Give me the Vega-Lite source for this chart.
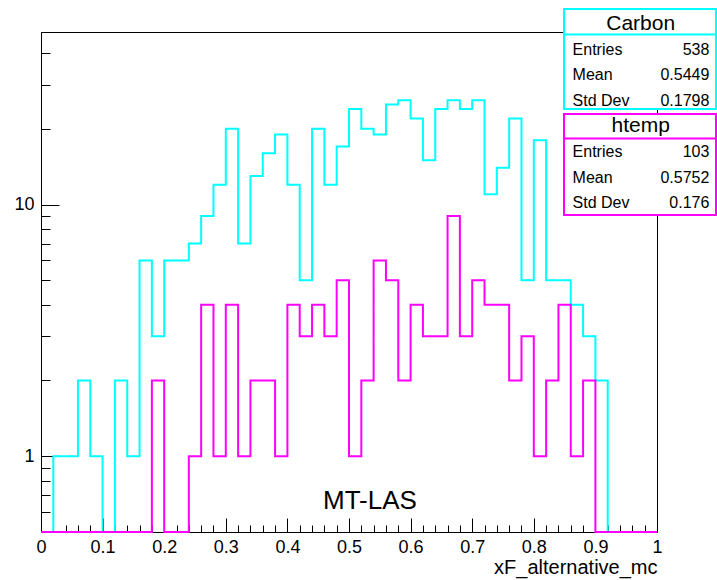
{
  "$schema": "https://vega.github.io/schema/vega-lite/v6.json",
  "width": 616,
  "height": 500,
  "autosize": {"type": "none"},
  "padding": {"left": 41, "top": 32, "right": 60, "bottom": 48},
  "background": "white",
  "config": {
    "view": {"stroke": "#000", "strokeWidth": 1},
    "font": "Liberation Sans",
    "axis": {
      "domainColor": "#000", "tickColor": "#000", "labelColor": "#000", "titleColor": "#000",
      "labelFont": "Liberation Sans", "titleFont": "Liberation Sans", "grid": false,
      "tickWidth": 1, "domainWidth": 1
    }
  },
  "datasets": {
    "hist": [
      {"x": 0.00, "Carbon": 0, "htemp": 0},
      {"x": 0.02, "Carbon": 1, "htemp": 0},
      {"x": 0.04, "Carbon": 1, "htemp": 0},
      {"x": 0.06, "Carbon": 2, "htemp": 0},
      {"x": 0.08, "Carbon": 1, "htemp": 0},
      {"x": 0.10, "Carbon": 0, "htemp": 0},
      {"x": 0.12, "Carbon": 2, "htemp": 0},
      {"x": 0.14, "Carbon": 1, "htemp": 0},
      {"x": 0.16, "Carbon": 6, "htemp": 0},
      {"x": 0.18, "Carbon": 3, "htemp": 2},
      {"x": 0.20, "Carbon": 6, "htemp": 0},
      {"x": 0.22, "Carbon": 6, "htemp": 0},
      {"x": 0.24, "Carbon": 7, "htemp": 1},
      {"x": 0.26, "Carbon": 9, "htemp": 4},
      {"x": 0.28, "Carbon": 12, "htemp": 1},
      {"x": 0.30, "Carbon": 20, "htemp": 4},
      {"x": 0.32, "Carbon": 7, "htemp": 1},
      {"x": 0.34, "Carbon": 13, "htemp": 2},
      {"x": 0.36, "Carbon": 16, "htemp": 2},
      {"x": 0.38, "Carbon": 19, "htemp": 1},
      {"x": 0.40, "Carbon": 12, "htemp": 4},
      {"x": 0.42, "Carbon": 5, "htemp": 3},
      {"x": 0.44, "Carbon": 20, "htemp": 4},
      {"x": 0.46, "Carbon": 12, "htemp": 3},
      {"x": 0.48, "Carbon": 17, "htemp": 5},
      {"x": 0.50, "Carbon": 24, "htemp": 1},
      {"x": 0.52, "Carbon": 20, "htemp": 2},
      {"x": 0.54, "Carbon": 19, "htemp": 6},
      {"x": 0.56, "Carbon": 25, "htemp": 5},
      {"x": 0.58, "Carbon": 26, "htemp": 2},
      {"x": 0.60, "Carbon": 22, "htemp": 4},
      {"x": 0.62, "Carbon": 15, "htemp": 3},
      {"x": 0.64, "Carbon": 24, "htemp": 3},
      {"x": 0.66, "Carbon": 26, "htemp": 9},
      {"x": 0.68, "Carbon": 24, "htemp": 3},
      {"x": 0.70, "Carbon": 26, "htemp": 5},
      {"x": 0.72, "Carbon": 11, "htemp": 4},
      {"x": 0.74, "Carbon": 14, "htemp": 4},
      {"x": 0.76, "Carbon": 22, "htemp": 2},
      {"x": 0.78, "Carbon": 5, "htemp": 3},
      {"x": 0.80, "Carbon": 18, "htemp": 1},
      {"x": 0.82, "Carbon": 5, "htemp": 2},
      {"x": 0.84, "Carbon": 5, "htemp": 4},
      {"x": 0.86, "Carbon": 4, "htemp": 1},
      {"x": 0.88, "Carbon": 3, "htemp": 2},
      {"x": 0.90, "Carbon": 2, "htemp": 0},
      {"x": 0.92, "Carbon": 0, "htemp": 0},
      {"x": 0.94, "Carbon": 0, "htemp": 0},
      {"x": 0.96, "Carbon": 0, "htemp": 0},
      {"x": 0.98, "Carbon": 0, "htemp": 0},
      {"x": 1.00, "Carbon": 0, "htemp": 0}
    ],
    "stats": [
      {"box": "Carbon", "kind": "title", "slot": 0, "label": "Carbon", "value": ""},
      {"box": "Carbon", "kind": "stat", "slot": 1, "label": "Entries", "value": "538"},
      {"box": "Carbon", "kind": "stat", "slot": 2, "label": "Mean", "value": "0.5449"},
      {"box": "Carbon", "kind": "stat", "slot": 3, "label": "Std Dev", "value": "0.1798"},
      {"box": "htemp", "kind": "title", "slot": 4, "label": "htemp", "value": ""},
      {"box": "htemp", "kind": "stat", "slot": 5, "label": "Entries", "value": "103"},
      {"box": "htemp", "kind": "stat", "slot": 6, "label": "Mean", "value": "0.5752"},
      {"box": "htemp", "kind": "stat", "slot": 7, "label": "Std Dev", "value": "0.176"}
    ]
  },
  "layer": [
    {
      "data": {"name": "hist"},
      "layer": [
        {
          "mark": {"type": "line", "interpolate": "step-after", "color": "#00FFFF", "strokeWidth": 2},
          "encoding": {
            "x": {
              "field": "x", "type": "quantitative",
              "scale": {"domain": [0, 1], "nice": false, "zero": false},
              "axis": {
                "orient": "bottom",
                "values": [0, 0.1, 0.2, 0.3, 0.4, 0.5, 0.6, 0.7, 0.8, 0.9, 1],
                "format": "~g", "tickSize": -14, "labelPadding": 20,
                "labelFontSize": 18, "labelFlush": false, "labelOverlap": false,
                "title": "xF_alternative_mc", "titleAnchor": "end", "titleFontSize": 20,
                "titleFontWeight": "normal", "titlePadding": 1
              }
            },
            "y": {
              "field": "Carbon", "type": "quantitative",
              "scale": {"type": "log", "domain": [0.5, 48.5], "nice": false, "clamp": true},
              "axis": {
                "orient": "left", "values": [1, 10], "format": "d", "tickSize": -18,
                "labelPadding": 25, "labelFontSize": 18, "title": null, "labelOverlap": false
              }
            }
          }
        },
        {
          "mark": {"type": "line", "interpolate": "step-after", "color": "#FF00FF", "strokeWidth": 2},
          "encoding": {
            "x": {
              "field": "x", "type": "quantitative",
              "scale": {"domain": [0, 1], "nice": false, "zero": false},
              "axis": {
                "orient": "bottom",
                "values": [0.02, 0.04, 0.06, 0.08, 0.12, 0.14, 0.16, 0.18, 0.22, 0.24, 0.26, 0.28, 0.32, 0.34, 0.36, 0.38, 0.42, 0.44, 0.46, 0.48, 0.52, 0.54, 0.56, 0.58, 0.62, 0.64, 0.66, 0.68, 0.72, 0.74, 0.76, 0.78, 0.82, 0.84, 0.86, 0.88, 0.92, 0.94, 0.96, 0.98],
                "tickSize": -7, "labels": false, "domain": false, "title": null
              }
            },
            "y": {
              "field": "htemp", "type": "quantitative",
              "scale": {"type": "log", "domain": [0.5, 48.5], "nice": false, "clamp": true},
              "axis": {
                "orient": "left",
                "values": [0.6, 0.7, 0.8, 0.9, 2, 3, 4, 5, 6, 7, 8, 9, 20, 30, 40],
                "tickSize": -9, "labels": false, "domain": false, "title": null
              }
            }
          }
        }
      ],
      "resolve": {"axis": {"x": "independent", "y": "independent"}}
    },
    {
      "layer": [
        {
          "data": {"values": [{}]},
          "mark": {"type": "rect", "fill": "white", "stroke": "#00FFFF", "strokeWidth": 2},
          "encoding": {
            "x": {"datum": 0.849, "type": "quantitative", "scale": {"domain": [0, 1], "nice": false, "zero": false}, "axis": null},
            "x2": {"datum": 1.0958},
            "y": {"datum": -0.586, "type": "quantitative", "scale": {"domain": [0.3125, 19.84], "reverse": true, "nice": false, "zero": false}, "axis": null},
            "y2": {"datum": 3.32}
          }
        },
        {
          "data": {"values": [{}]},
          "mark": {"type": "rule", "stroke": "#00FFFF", "strokeWidth": 2},
          "encoding": {
            "x": {"datum": 0.849, "type": "quantitative"},
            "x2": {"datum": 1.0958},
            "y": {"datum": 0.41, "type": "quantitative"}
          }
        },
        {
          "data": {"values": [{}]},
          "mark": {"type": "rect", "fill": "white", "stroke": "#FF00FF", "strokeWidth": 2},
          "encoding": {
            "x": {"datum": 0.849, "type": "quantitative"},
            "x2": {"datum": 1.0958},
            "y": {"datum": 3.516, "type": "quantitative"},
            "y2": {"datum": 7.46}
          }
        },
        {
          "data": {"values": [{}]},
          "mark": {"type": "rule", "stroke": "#FF00FF", "strokeWidth": 2},
          "encoding": {
            "x": {"datum": 0.849, "type": "quantitative"},
            "x2": {"datum": 1.0958},
            "y": {"datum": 4.473, "type": "quantitative"}
          }
        },
        {
          "data": {"name": "stats"},
          "transform": [{"filter": {"field": "kind", "equal": "title"}}],
          "mark": {"type": "text", "fontSize": 21, "align": "center", "baseline": "middle", "color": "#000"},
          "encoding": {
            "x": {"datum": 0.9735, "type": "quantitative"},
            "y": {"field": "slot", "type": "quantitative"},
            "text": {"field": "label"}
          }
        },
        {
          "data": {"name": "stats"},
          "transform": [{"filter": {"field": "kind", "equal": "stat"}}],
          "mark": {"type": "text", "fontSize": 16, "align": "left", "baseline": "middle", "color": "#000"},
          "encoding": {
            "x": {"datum": 0.863, "type": "quantitative"},
            "y": {"field": "slot", "type": "quantitative"},
            "text": {"field": "label"}
          }
        },
        {
          "data": {"name": "stats"},
          "transform": [{"filter": {"field": "kind", "equal": "stat"}}],
          "mark": {"type": "text", "fontSize": 16, "align": "right", "baseline": "middle", "color": "#000"},
          "encoding": {
            "x": {"datum": 1.085, "type": "quantitative"},
            "y": {"field": "slot", "type": "quantitative"},
            "text": {"field": "value"}
          }
        },
        {
          "data": {"values": [{"label": "MT-LAS"}]},
          "mark": {"type": "text", "fontSize": 26, "align": "center", "baseline": "middle", "color": "#000"},
          "encoding": {
            "x": {"datum": 0.534, "type": "quantitative"},
            "y": {"datum": 18.63, "type": "quantitative"},
            "text": {"field": "label"}
          }
        }
      ]
    }
  ],
  "resolve": {
    "scale": {"x": "independent", "y": "independent"},
    "axis": {"x": "independent", "y": "independent"}
  }
}
